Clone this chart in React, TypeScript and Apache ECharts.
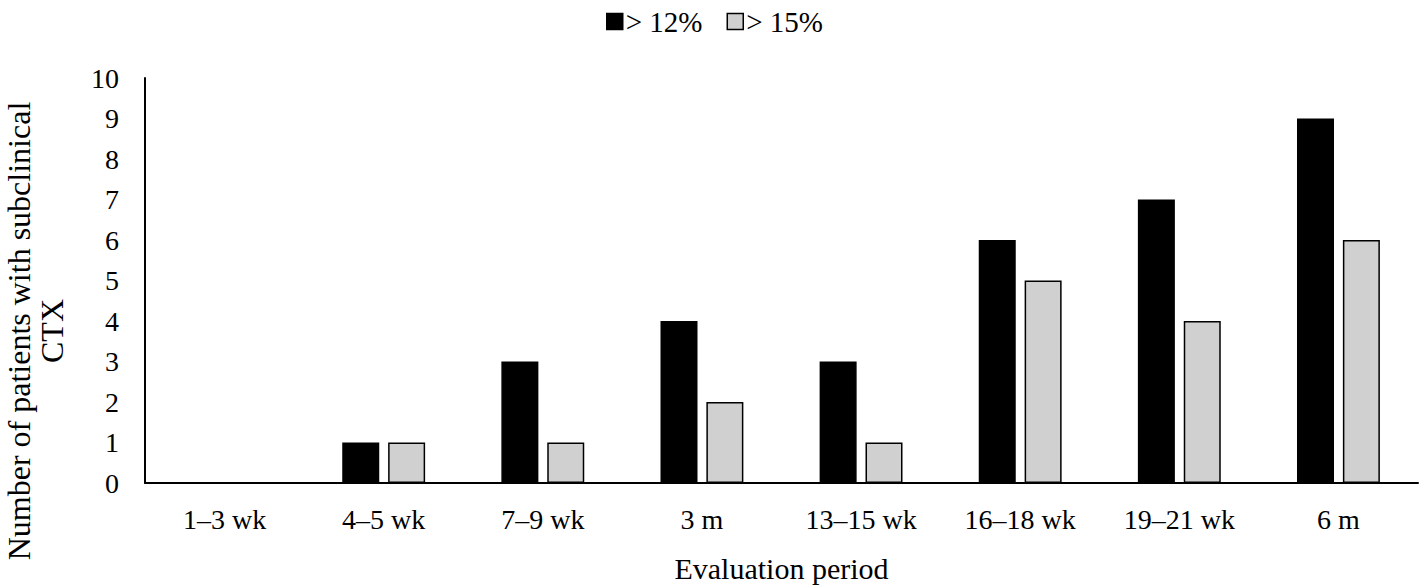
import React, { useEffect, useRef } from "react";
import * as echarts from "echarts";

const categories = ["1–3 wk", "4–5 wk", "7–9 wk", "3 m", "13–15 wk", "16–18 wk", "19–21 wk", "6 m"];
const over12 = [0, 1, 3, 4, 3, 6, 7, 9];
const over15 = [0, 1, 1, 2, 1, 5, 4, 6];
const seriesNames = ["> 12%", "> 15%"];

const FONT = "Liberation Serif";

export default function App() {
  const ref = useRef<HTMLDivElement>(null);
  useEffect(() => {
    if (!ref.current) return;
    const chart = echarts.init(ref.current, undefined, { renderer: "svg" });
    chart.setOption({
      animation: false,
      textStyle: { fontFamily: FONT, color: "#000" },
      legend: {
        top: 2,
        left: 601,
        itemWidth: 16,
        itemHeight: 16,
        itemGap: 24,
        textStyle: { fontFamily: FONT, fontSize: 29, color: "#000", padding: [0, 0, 0, -2] },
        data: [
          { name: seriesNames[0], icon: "rect", itemStyle: { color: "#000", borderColor: "#000", borderWidth: 1.5 } },
          { name: seriesNames[1], icon: "rect", itemStyle: { color: "#d0d0d0", borderColor: "#000", borderWidth: 1.5 } },
        ],
      },
      grid: { left: 145, right: 5, top: 78, bottom: 100, containLabel: false },
      xAxis: {
        type: "category",
        data: categories,
        axisLine: { lineStyle: { color: "#000", width: 2 } },
        axisTick: { show: false },
        axisLabel: { fontFamily: FONT, fontSize: 28, color: "#000", margin: 22 },
        name: "Evaluation period",
        nameLocation: "middle",
        nameGap: 70,
        nameTextStyle: { fontFamily: FONT, fontSize: 30, color: "#000" },
      },
      yAxis: {
        type: "value",
        min: 0,
        max: 10,
        interval: 1,
        axisLine: { show: true, lineStyle: { color: "#000", width: 2 } },
        axisTick: { show: false },
        splitLine: { show: false },
        axisLabel: { fontFamily: FONT, fontSize: 28, color: "#000", margin: 26 },
      },
      graphic: [
        {
          type: "text",
          x: 35,
          y: 331,
          rotation: Math.PI / 2,
          style: {
            text: "Number of patients with subclinical\nCTX",
            fontFamily: FONT,
            fontSize: 32,
            fill: "#000",
            align: "center",
            verticalAlign: "middle",
            lineHeight: 33,
          },
        },
      ],
      series: [
        {
          name: seriesNames[0],
          type: "bar",
          data: over12,
          barWidth: 37,
          barGap: "24%",
          itemStyle: { color: "#000", borderColor: "#000", borderWidth: 1.5 },
        },
        {
          name: seriesNames[1],
          type: "bar",
          data: over15,
          barWidth: 37,
          itemStyle: { color: "#d0d0d0", borderColor: "#000", borderWidth: 1.5 },
        },
      ],
    });
    return () => chart.dispose();
  }, []);
  return <div ref={ref} style={{ position: "absolute", left: 0, top: 0, width: 1423, height: 588 }} />;
}
